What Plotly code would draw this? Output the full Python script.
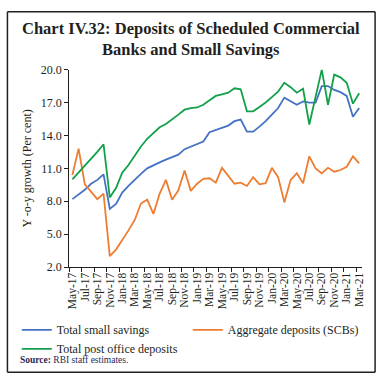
import plotly.graph_objects as go

months = ["May-17","Jun-17","Jul-17","Aug-17","Sep-17","Oct-17","Nov-17","Dec-17",
          "Jan-18","Feb-18","Mar-18","Apr-18","May-18","Jun-18","Jul-18","Aug-18",
          "Sep-18","Oct-18","Nov-18","Dec-18","Jan-19","Feb-19","Mar-19","Apr-19",
          "May-19","Jun-19","Jul-19","Aug-19","Sep-19","Oct-19","Nov-19","Dec-19",
          "Jan-20","Feb-20","Mar-20","Apr-20","May-20","Jun-20","Jul-20","Aug-20",
          "Sep-20","Oct-20","Nov-20","Dec-20","Jan-21","Feb-21","Mar-21"]

total_small_savings = [8.2, 8.6, 9.05, 9.6, 9.95, 10.45, 7.3, 7.75, 8.8, 9.4, 10.0, 10.5,
                       11.0, 11.3, 11.55, 11.8, 12.0, 12.25, 12.75, 13.0, 13.2, 13.45, 14.3, 14.5,
                       14.7, 14.9, 15.3, 15.45, 14.35, 14.35, 14.8, 15.3, 15.9, 16.5, 17.45, 17.15,
                       16.8, 17.1, 17.0, 17.0, 18.5, 18.5, 18.15, 17.95, 17.6, 15.7, 16.5]

aggregate_deposits = [10.4, 12.8, 9.55, 8.9, 8.2, 8.7, 3.0, 3.6, 4.45, 5.35, 6.3, 7.8,
                      8.15, 6.85, 8.7, 9.95, 8.15, 9.0, 10.8, 8.95, 9.6, 10.05, 10.1, 9.7,
                      11.05, 10.35, 9.6, 9.7, 9.4, 10.2, 9.55, 9.65, 11.05, 10.2, 7.9, 9.95,
                      10.55, 9.65, 12.1, 11.0, 10.55, 11.05, 10.7, 10.85, 11.15, 12.1, 11.45]

total_post_office = [10.0, 10.6, 11.2, 11.8, 12.5, 13.2, 8.35, 9.2, 10.6, 11.3, 12.2, 13.0,
                     13.7, 14.25, 14.75, 15.05, 15.45, 15.9, 16.35, 16.5, 16.55, 16.8, 17.2, 17.6,
                     17.75, 17.9, 18.3, 18.2, 16.2, 16.2, 16.6, 17.0, 17.5, 18.0, 18.8, 18.4,
                     17.9, 18.25, 15.0, 17.5, 20.0, 16.8, 19.55, 19.3, 18.8, 16.9, 17.85]

y_ticks = [2.0, 5.0, 8.0, 11.0, 14.0, 17.0, 20.0]
x_ticks = months[::2]

SERIF = "Liberation Serif"
TXT = "#231f20"

W, H = 384, 383

def fx(x):
    return x / W

def fy(y):
    return (H - y) / H

fig = go.Figure()
fig.add_trace(go.Scatter(x=months, y=total_small_savings, mode="lines",
                         name="Total small savings", line=dict(color="#4472C4", width=1.8)))
fig.add_trace(go.Scatter(x=months, y=aggregate_deposits, mode="lines",
                         name="Aggregate deposits (SCBs)", line=dict(color="#ED7D31", width=1.8)))
fig.add_trace(go.Scatter(x=months, y=total_post_office, mode="lines",
                         name="Total post office deposits", line=dict(color="#12A04A", width=1.8)))

fig.update_layout(
    width=W, height=H,
    margin=dict(l=0, r=0, t=0, b=0),
    paper_bgcolor="white", plot_bgcolor="white",
    font=dict(family=SERIF, color=TXT, size=12),
    showlegend=True,
    legend=dict(orientation="h", x=fx(14), xanchor="left", y=fy(320), yanchor="top",
                entrywidth=126, entrywidthmode="pixels",
                font=dict(family=SERIF, size=12, color=TXT),
                tracegroupgap=0, itemwidth=30, bgcolor="rgba(0,0,0,0)"),
    xaxis=dict(type="category", categoryorder="array", categoryarray=months,
               domain=[fx(67.3), fx(365)],
               range=[-0.5, len(months) - 0.5],
               tickmode="array", tickvals=x_ticks, ticktext=x_ticks,
               tickson="boundaries", tickangle=-90,
               ticks="outside", ticklen=4, tickcolor=TXT,
               showline=True, linecolor=TXT, linewidth=1,
               showgrid=False, zeroline=False,
               tickfont=dict(family=SERIF, size=11.5, color=TXT)),
    yaxis=dict(range=[2.0, 20.0], domain=[fy(270), fy(65)],
               tickmode="array", tickvals=y_ticks,
               ticktext=[f"{v:.1f}" for v in y_ticks],
               ticks="outside", ticklen=4, tickcolor=TXT,
               showline=True, linecolor=TXT, linewidth=1,
               showgrid=False, zeroline=False,
               tickfont=dict(family=SERIF, size=12, color=TXT),
               title=dict(text="Y -o-y growth (Per cent)", standoff=6,
                          font=dict(family=SERIF, size=12, color=TXT))),
)

fig.add_annotation(text="<b>Chart IV.32: Deposits of Scheduled Commercial<br>Banks and Small Savings</b>",
                   xref="paper", yref="paper", x=fx(191), y=fy(10), xanchor="center", yanchor="top",
                   showarrow=False, align="center",
                   font=dict(family=SERIF, size=16.5, color=TXT))

fig.add_annotation(text="<b>Source:</b> RBI staff estimates.",
                   xref="paper", yref="paper", x=fx(15), y=fy(366), xanchor="left", yanchor="middle",
                   showarrow=False, font=dict(family=SERIF, size=9.5, color="#1f2a55"))

# outer frame drawn as four edge lines
bx0, bx1, by0, by1 = fx(4.5), fx(378), fy(379), fy(5)
for (a, b, c, d) in [(bx0, by0, bx1, by0), (bx0, by1, bx1, by1),
                     (bx0, by0, bx0, by1), (bx1, by0, bx1, by1)]:
    fig.add_shape(type="line", xref="paper", yref="paper", x0=a, y0=b, x1=c, y1=d,
                  line=dict(color=TXT, width=1.5))

# remove the browser's default 8px page margin so the 384x383 figure fills the window
fig.write_html("out.html",
               config={"displayModeBar": False},
               post_script="document.body.style.margin='0';document.body.style.padding='0';")
